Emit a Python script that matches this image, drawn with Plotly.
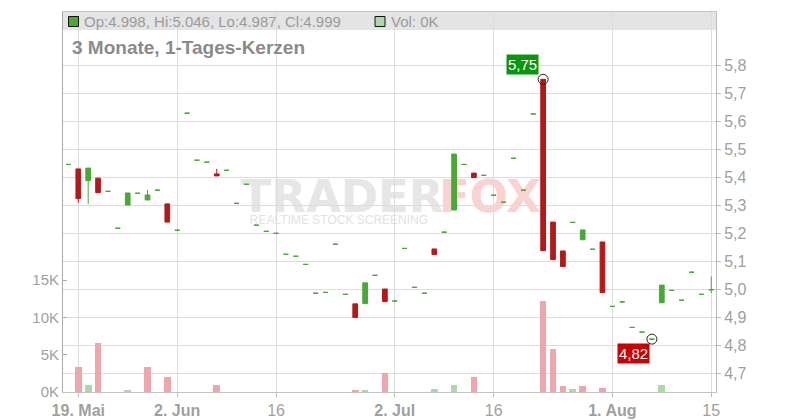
import plotly.graph_objects as go

# ---------------- data ----------------
dates = [
    "2025-05-16",
    "2025-05-19", "2025-05-20", "2025-05-21", "2025-05-22", "2025-05-23",
    "2025-05-26", "2025-05-27", "2025-05-28", "2025-05-29", "2025-05-30",
    "2025-06-02", "2025-06-03", "2025-06-04", "2025-06-05", "2025-06-06",
    "2025-06-09", "2025-06-10", "2025-06-11", "2025-06-12", "2025-06-13",
    "2025-06-16", "2025-06-17", "2025-06-18", "2025-06-19", "2025-06-20",
    "2025-06-23", "2025-06-24", "2025-06-25", "2025-06-26", "2025-06-27",
    "2025-06-30", "2025-07-01", "2025-07-02", "2025-07-03", "2025-07-04",
    "2025-07-07", "2025-07-08", "2025-07-09", "2025-07-10", "2025-07-11",
    "2025-07-14", "2025-07-15", "2025-07-16", "2025-07-17", "2025-07-18",
    "2025-07-21", "2025-07-22", "2025-07-23", "2025-07-24", "2025-07-25",
    "2025-07-28", "2025-07-29", "2025-07-30", "2025-07-31", "2025-08-01",
    "2025-08-04", "2025-08-05", "2025-08-06", "2025-08-07", "2025-08-08",
    "2025-08-11", "2025-08-12", "2025-08-13", "2025-08-14", "2025-08-15",
]

opens = [
    5.446,
    5.430, 5.388, 5.397, 5.350, 5.218,
    5.301, 5.343, 5.319, 5.354, 5.305,
    5.211, 5.629, 5.461, 5.454, 5.412,
    5.425, 5.307, 5.375, 5.229, 5.207,
    5.200, 5.125, 5.118, 5.089, 4.986,
    4.989, 5.161, 4.982, 4.948, 4.949,
    5.050, 5.001, 4.958, 5.146, 5.007,
    4.986, 5.144, 5.204, 5.283, 5.446,
    5.415, 5.407, 5.336, 5.311, 5.468,
    5.354, 5.626, 5.750, 5.240, 5.137,
    5.239, 5.177, 5.143, 5.169, 4.939,
    4.955, 4.864, 4.847, 4.822, 4.952,
    4.996, 4.961, 5.061, 4.982, 4.998,
]
highs = [
    5.446,
    5.430, 5.433, 5.397, 5.350, 5.218,
    5.344, 5.343, 5.355, 5.354, 5.305,
    5.211, 5.629, 5.461, 5.454, 5.430,
    5.425, 5.307, 5.375, 5.229, 5.207,
    5.200, 5.125, 5.118, 5.089, 4.986,
    4.989, 5.161, 4.982, 4.948, 5.023,
    5.050, 5.001, 4.958, 5.146, 5.007,
    4.986, 5.144, 5.204, 5.483, 5.446,
    5.415, 5.407, 5.336, 5.311, 5.468,
    5.354, 5.626, 5.750, 5.240, 5.137,
    5.239, 5.212, 5.143, 5.169, 4.939,
    4.955, 4.864, 4.847, 4.822, 5.015,
    4.996, 4.961, 5.061, 4.982, 5.046,
]
lows = [
    5.446,
    5.309, 5.305, 5.345, 5.350, 5.218,
    5.301, 5.343, 5.319, 5.354, 5.240,
    5.211, 5.629, 5.461, 5.454, 5.405,
    5.425, 5.307, 5.375, 5.229, 5.207,
    5.200, 5.125, 5.118, 5.089, 4.986,
    4.989, 5.161, 4.982, 4.899, 4.949,
    5.050, 4.956, 4.958, 5.146, 5.007,
    4.986, 5.124, 5.204, 5.283, 5.446,
    5.399, 5.407, 5.336, 5.311, 5.468,
    5.354, 5.626, 5.138, 5.106, 5.081,
    5.239, 5.177, 5.143, 4.988, 4.939,
    4.955, 4.864, 4.847, 4.822, 4.952,
    4.996, 4.961, 5.061, 4.982, 4.987,
]
closes = [
    5.446,
    5.324, 5.433, 5.345, 5.350, 5.218,
    5.344, 5.343, 5.337, 5.354, 5.240,
    5.211, 5.629, 5.461, 5.454, 5.405,
    5.425, 5.307, 5.375, 5.229, 5.207,
    5.200, 5.125, 5.118, 5.089, 4.986,
    4.989, 5.161, 4.982, 4.899, 5.023,
    5.050, 4.956, 4.958, 5.146, 5.007,
    4.986, 5.124, 5.204, 5.483, 5.446,
    5.399, 5.407, 5.336, 5.311, 5.468,
    5.354, 5.626, 5.138, 5.106, 5.081,
    5.239, 5.212, 5.143, 4.988, 4.939,
    4.955, 4.864, 4.847, 4.822, 5.015,
    4.996, 4.961, 5.061, 4.982, 4.999,
]
volumes = [
    0,
    3300, 980, 6600, 0, 0,
    180, 0, 3300, 0, 2050,
    0, 0, 0, 0, 980,
    0, 0, 0, 0, 0,
    0, 0, 0, 0, 0,
    0, 0, 0, 170, 310,
    0, 2600, 0, 0, 0,
    0, 440, 0, 980, 0,
    2050, 0, 0, 0, 0,
    0, 0, 12150, 5800, 850,
    440, 850, 0, 580, 0,
    0, 0, 0, 0, 980,
    0, 0, 0, 0, 0,
]

price_ticks = [4.7, 4.8, 4.9, 5.0, 5.1, 5.2, 5.3, 5.4, 5.5, 5.6, 5.7, 5.8]
price_tick_labels = ["4,7", "4,8", "4,9", "5,0", "5,1", "5,2", "5,3", "5,4", "5,5", "5,6", "5,7", "5,8"]
vol_ticks = [0, 5000, 10000, 15000]
vol_tick_labels = ["0K", "5K", "10K", "15K"]
date_ticks = ["2025-05-19", "2025-06-02", "2025-06-16", "2025-07-02", "2025-07-16", "2025-08-01", "2025-08-15"]
date_tick_labels = ["<b>19. Mai</b>", "<b>2. Jun</b>", "16", "<b>2. Jul</b>", "16", "<b>1. Aug</b>", "15"]

title_text = "3 Monate, 1-Tages-Kerzen"

# ---------------- styling ----------------
FONT = "Liberation Sans, Arial, sans-serif"
WM_FONT = "DejaVu Sans, Liberation Sans, sans-serif"
UP = "#48aa34"
DOWN = "#b31919"
VOL_UP = "#a9daa5"
VOL_DOWN = "#eea5ad"
GRID = "#dcdcdc"
TXT = "#a0a0a0"

# plot area in pixels
L, R, T, B = 63, 716, 12, 392


def px_x(px):
    return (px - L) / (R - L)


def px_y(py):
    return (B - py) / (B - T)


n = len(dates)
up_idx = [i for i in range(n) if closes[i] >= opens[i]]
dn_idx = [i for i in range(n) if closes[i] < opens[i]]

vol_colors = []
for i in range(n):
    prev = closes[i - 1] if i > 0 else closes[i]
    vol_colors.append(VOL_UP if closes[i] >= prev else VOL_DOWN)

fig = go.Figure()

fig.add_trace(go.Bar(
    x=dates, y=volumes, marker=dict(color=vol_colors, line=dict(width=0)),
    width=0.68, yaxis="y", xaxis="x", showlegend=False, hoverinfo="skip",
))


def cs(idx, color):
    return go.Candlestick(
        x=[dates[i] for i in idx],
        open=[opens[i] for i in idx],
        high=[highs[i] for i in idx],
        low=[lows[i] for i in idx],
        close=[closes[i] for i in idx],
        increasing=dict(line=dict(color=color, width=1), fillcolor=color),
        decreasing=dict(line=dict(color=color, width=1), fillcolor=color),
        whiskerwidth=0, yaxis="y2", xaxis="x", showlegend=False,
    )


fig.add_trace(cs(up_idx, UP))
fig.add_trace(cs(dn_idx, DOWN))

# extreme markers
hi_i = max(range(n), key=lambda i: highs[i])
lo_i = min(range(n), key=lambda i: lows[i])
fig.add_trace(go.Scatter(
    x=[dates[hi_i], dates[lo_i]], y=[highs[hi_i], lows[lo_i]],
    mode="markers", yaxis="y2",
    marker=dict(symbol="circle-open", size=10, color="#222", line=dict(width=1, color="#222")),
    showlegend=False, hoverinfo="skip",
))

annotations = [
    dict(x=dates[hi_i], y=highs[hi_i], xref="x", yref="y2",
         text=f"{highs[hi_i]:.2f}".replace(".", ","), showarrow=False,
         xanchor="right", yanchor="bottom", xshift=-4, yshift=4,
         bgcolor="#0a960a", borderpad=1,
         font=dict(family=FONT, size=15, color="white")),
    dict(x=dates[lo_i], y=lows[lo_i], xref="x", yref="y2",
         text=f"{lows[lo_i]:.2f}".replace(".", ","), showarrow=False,
         xanchor="right", yanchor="top", xshift=-2, yshift=-4,
         bgcolor="#cc0000", borderpad=1,
         font=dict(family=FONT, size=15, color="white")),
    dict(x=px_x(82), y=px_y(21.5), xref="paper", yref="paper",
         text=f"Op:{opens[-1]:.3f}, Hi:{highs[-1]:.3f}, Lo:{lows[-1]:.3f}, Cl:{closes[-1]:.3f}",
         showarrow=False, xanchor="left", yanchor="middle",
         font=dict(family=FONT, size=15, color="#9a9a9a")),
    dict(x=px_x(389), y=px_y(21.5), xref="paper", yref="paper",
         text=f"Vol: {volumes[-1] // 1000}K",
         showarrow=False, xanchor="left", yanchor="middle",
         font=dict(family=FONT, size=15, color="#9a9a9a")),
    dict(x=px_x(70), y=px_y(48), xref="paper", yref="paper",
         text=f"<b>{title_text}</b>",
         showarrow=False, xanchor="left", yanchor="middle",
         font=dict(family=FONT, size=19, color="#8a8a8a")),
]

shapes = [
    # legend band
    dict(type="rect", xref="paper", yref="paper", x0=0, x1=1, y0=px_y(30), y1=1,
         fillcolor="#e4e4e4", line=dict(width=0), layer="below"),
    # legend squares
    dict(type="rect", xref="paper", yref="paper", x0=px_x(68.5), x1=px_x(78.5),
         y0=px_y(26.5), y1=px_y(16.5), fillcolor=UP, line=dict(width=1, color="#111")),
    dict(type="rect", xref="paper", yref="paper", x0=px_x(375), x1=px_x(385),
         y0=px_y(26.5), y1=px_y(16.5), fillcolor=VOL_UP, line=dict(width=1, color="#111")),
    # watermark
    dict(type="rect", xref="paper", yref="paper", x0=px_x(238), x1=px_x(446),
         y0=px_y(212), y1=px_y(174), line=dict(width=0), fillcolor="rgba(0,0,0,0)", layer="below",
         label=dict(text="TRADER", textposition="middle center",
                    font=dict(family=WM_FONT, size=45, color="#e6e6e6", weight="bold"))),
    dict(type="rect", xref="paper", yref="paper", x0=px_x(441), x1=px_x(539),
         y0=px_y(212), y1=px_y(174), line=dict(width=0), fillcolor="rgba(0,0,0,0)", layer="below",
         label=dict(text="FOX", textposition="middle center",
                    font=dict(family=WM_FONT, size=45, color="#f9d2d2", weight="bold"))),
    dict(type="rect", xref="paper", yref="paper", x0=px_x(246), x1=px_x(432),
         y0=px_y(226), y1=px_y(212), line=dict(width=0), fillcolor="rgba(0,0,0,0)", layer="below",
         label=dict(text="REALTIME STOCK SCREENING", textposition="middle center",
                    font=dict(family=FONT, size=12, color="#e2e2e2"))),
]

fig.update_layout(
    width=800, height=420,
    margin=dict(l=L, r=800 - R, t=T, b=420 - B, autoexpand=False),
    paper_bgcolor="white", plot_bgcolor="white",
    showlegend=False, boxgap=0.32, bargap=0,
    font=dict(family=FONT, color=TXT),
    xaxis=dict(
        type="category", categoryorder="array", categoryarray=dates,
        range=[-0.546, 65.48], tickvals=date_ticks, ticktext=date_tick_labels,
        showgrid=True, gridcolor=GRID, gridwidth=1,
        showline=True, linecolor="#c4c4c4", linewidth=1, mirror=True,
        ticks="outside", ticklen=4, tickcolor="#bbbbbb",
        tickfont=dict(family=FONT, size=16, color=TXT),
        rangeslider=dict(visible=False), fixedrange=True, automargin=False,
    ),
    yaxis=dict(
        side="left", range=[0, 50940], tickvals=vol_ticks, ticktext=vol_tick_labels,
        showgrid=False, zeroline=False,
        showline=True, linecolor="#aaaaaa", linewidth=1,
        ticks="inside", ticklen=4, tickcolor="#aaaaaa",
        tickfont=dict(family=FONT, size=15, color=TXT), automargin=False,
    ),
    yaxis2=dict(
        overlaying="y", side="right", range=[4.6332, 5.9904],
        tickvals=price_ticks, ticktext=price_tick_labels,
        showgrid=True, gridcolor=GRID, gridwidth=1, zeroline=False,
        showline=True, linecolor="#bbbbbb", linewidth=1,
        ticks="outside", ticklen=4, tickcolor="#bbbbbb",
        tickfont=dict(family=FONT, size=16, color=TXT), automargin=False,
    ),
    annotations=annotations,
    shapes=shapes,
)

fig.write_html(
    "out.html",
    config={"displayModeBar": False},
    post_script="document.body.style.margin='0px';document.body.style.overflow='hidden';",
)
